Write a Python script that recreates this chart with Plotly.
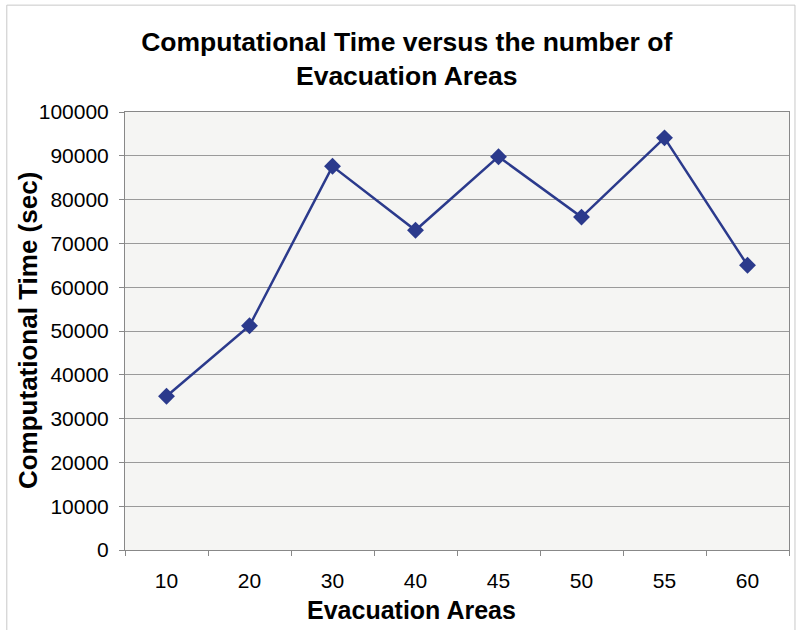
import plotly.graph_objects as go

categories = ["10", "20", "30", "40", "45", "50", "55", "60"]
comp_time = [35100, 51200, 87600, 73000, 89800, 76000, 94100, 65000]
y_ticks = list(range(0, 100001, 10000))

fig = go.Figure()
fig.add_trace(go.Scatter(
    x=categories, y=comp_time, mode="lines+markers",
    line=dict(color="#2b3a8c", width=2.5),
    marker=dict(symbol="diamond", size=13, color="#2b3a8c"),
    showlegend=False,
))

fig.update_layout(
    width=799, height=630,
    paper_bgcolor="white", plot_bgcolor="#f5f5f3",
    margin=dict(l=125, r=10, t=112, b=80),
    title=dict(text="Computational Time versus the number of<br>Evacuation Areas",
               x=0.509, xanchor="center", y=0.919, yanchor="top",
               font=dict(family="Liberation Sans, Arial", size=26.5, color="black", weight="bold")),
    font=dict(family="Liberation Sans, Arial", color="black"),
    shapes=[dict(type="rect", xref="paper", yref="paper", x0=-0.178, x1=1.009, y0=-0.2, y1=1.244,
                 line=dict(color="#c8c8c8", width=1))],
    annotations=[
        dict(text="<b>Computational Time (sec)</b>", xref="paper", yref="paper",
             x=-0.146, y=0.5, xanchor="center", yanchor="middle", textangle=-90,
             showarrow=False, font=dict(size=26)),
        dict(text="<b>Evacuation Areas</b>", xref="paper", yref="paper",
             x=0.432, y=-0.137, xanchor="center", yanchor="middle",
             showarrow=False, font=dict(size=25)),
    ],
)
fig.update_xaxes(
    type="category", range=[-0.5, 7.5], tickson="boundaries", automargin=False,
    ticks="outside", ticklen=5, tickcolor="#888888", ticklabelstandoff=12,
    showline=True, linecolor="#888888", linewidth=1, mirror=True,
    showgrid=False, tickfont=dict(size=21),
)
fig.update_yaxes(
    range=[0, 100000], tickvals=y_ticks, ticktext=[str(v) for v in y_ticks], automargin=False,
    ticks="outside", ticklen=5, tickcolor="#888888", ticklabelstandoff=6,
    showline=True, linecolor="#888888", linewidth=1, mirror=True,
    showgrid=True, gridcolor="#9a9a9a", gridwidth=1, zeroline=False,
    tickfont=dict(size=21),
)
fig.write_html("out.html", config={"displayModeBar": False},
               post_script="document.body.style.margin='0';")
